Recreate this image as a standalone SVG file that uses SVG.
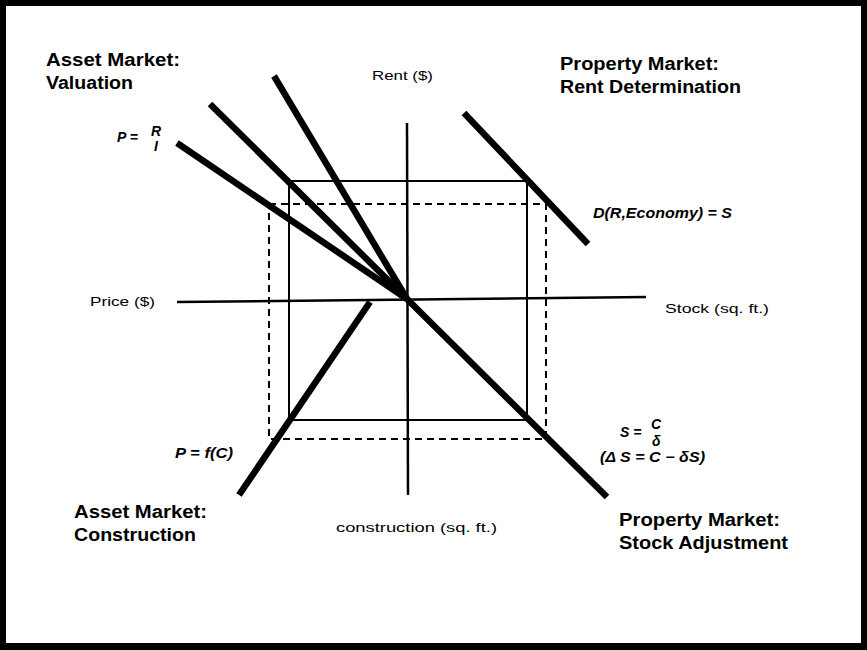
<svg xmlns="http://www.w3.org/2000/svg" width="867" height="650" viewBox="0 0 867 650">
<style>
.hd{font-family:"Liberation Sans",Arial,sans-serif;font-weight:bold;font-size:18px;fill:#000}
.ax{font-family:"Liberation Sans",Arial,sans-serif;font-size:13px;fill:#000}
.eq{font-family:"Liberation Sans",Arial,sans-serif;font-weight:bold;font-style:italic;font-size:14px;fill:#000}
.thick{stroke:#000;stroke-width:6.5;fill:none;stroke-linecap:butt}
.axis{stroke:#000;stroke-width:2.5;fill:none}
.box{stroke:#000;stroke-width:2;fill:none}
.dash{stroke:#000;stroke-width:2;fill:none;stroke-dasharray:7 5}
</style>
<rect x="0" y="0" width="867" height="650" fill="#000"/>
<rect x="6" y="6" width="855" height="637" fill="#fff"/>

<g id="boxes">
<rect class="box" x="289" y="181" width="238" height="239"/>
<rect class="dash" x="269" y="204" width="277" height="235"/>
</g>

<g id="axes">
<line class="axis" x1="407" y1="123" x2="408" y2="495"/>
<line class="axis" x1="177" y1="302" x2="646" y2="297"/>
</g>

<g id="connectors">
<line class="thick" x1="177" y1="143" x2="407" y2="299"/>
<line class="thick" x1="210" y1="104" x2="607" y2="497"/>
<line class="thick" x1="274" y1="76" x2="407" y2="299"/>
<line class="thick" x1="239" y1="495" x2="370" y2="302"/>
<line class="thick" x1="464" y1="113" x2="588" y2="244"/>
</g>

<g id="label-valuation">
<text class="hd" x="46" y="66" textLength="134" lengthAdjust="spacingAndGlyphs">Asset Market:</text>
<text class="hd" x="46" y="89" textLength="87" lengthAdjust="spacingAndGlyphs">Valuation</text>
</g>
<g id="label-rent">
<text class="hd" x="560" y="70" textLength="159" lengthAdjust="spacingAndGlyphs">Property Market:</text>
<text class="hd" x="560" y="93" textLength="181" lengthAdjust="spacingAndGlyphs">Rent Determination</text>
</g>
<g id="label-construction">
<text class="hd" x="74" y="518" textLength="133" lengthAdjust="spacingAndGlyphs">Asset Market:</text>
<text class="hd" x="74" y="541" textLength="122" lengthAdjust="spacingAndGlyphs">Construction</text>
</g>
<g id="label-stock">
<text class="hd" x="619" y="526" textLength="161" lengthAdjust="spacingAndGlyphs">Property Market:</text>
<text class="hd" x="619" y="549" textLength="169" lengthAdjust="spacingAndGlyphs">Stock Adjustment</text>
</g>

<g id="axis-labels">
<text class="ax" x="372" y="80" textLength="61" lengthAdjust="spacingAndGlyphs">Rent ($)</text>
<text class="ax" x="90" y="306" textLength="65" lengthAdjust="spacingAndGlyphs">Price ($)</text>
<text class="ax" x="665" y="313" textLength="104" lengthAdjust="spacingAndGlyphs">Stock (sq. ft.)</text>
<text class="ax" x="336" y="532" textLength="161" lengthAdjust="spacingAndGlyphs">construction (sq. ft.)</text>
</g>

<g id="eq-valuation">
<text class="eq" x="117" y="142" font-size="13">P =</text>
<text class="eq" x="151" y="136" font-size="11">R</text>
<text class="eq" x="154" y="151" font-size="11">I</text>
</g>
<g id="eq-rent">
<text class="eq" x="593" y="218" textLength="139" lengthAdjust="spacingAndGlyphs">D(R,Economy) = S</text>
</g>
<g id="eq-stock">
<text class="eq" x="620" y="437" font-size="13">S =</text>
<text class="eq" x="651" y="429" font-size="11">C</text>
<text class="eq" x="652" y="446" font-size="11">δ</text>
<text class="eq" x="600" y="462" font-size="13" textLength="105" lengthAdjust="spacingAndGlyphs">(Δ S = C − δS)</text>
</g>
<g id="eq-construction">
<text class="eq" x="175" y="458" font-size="14" textLength="58" lengthAdjust="spacingAndGlyphs">P = f(C)</text>
</g>
</svg>
